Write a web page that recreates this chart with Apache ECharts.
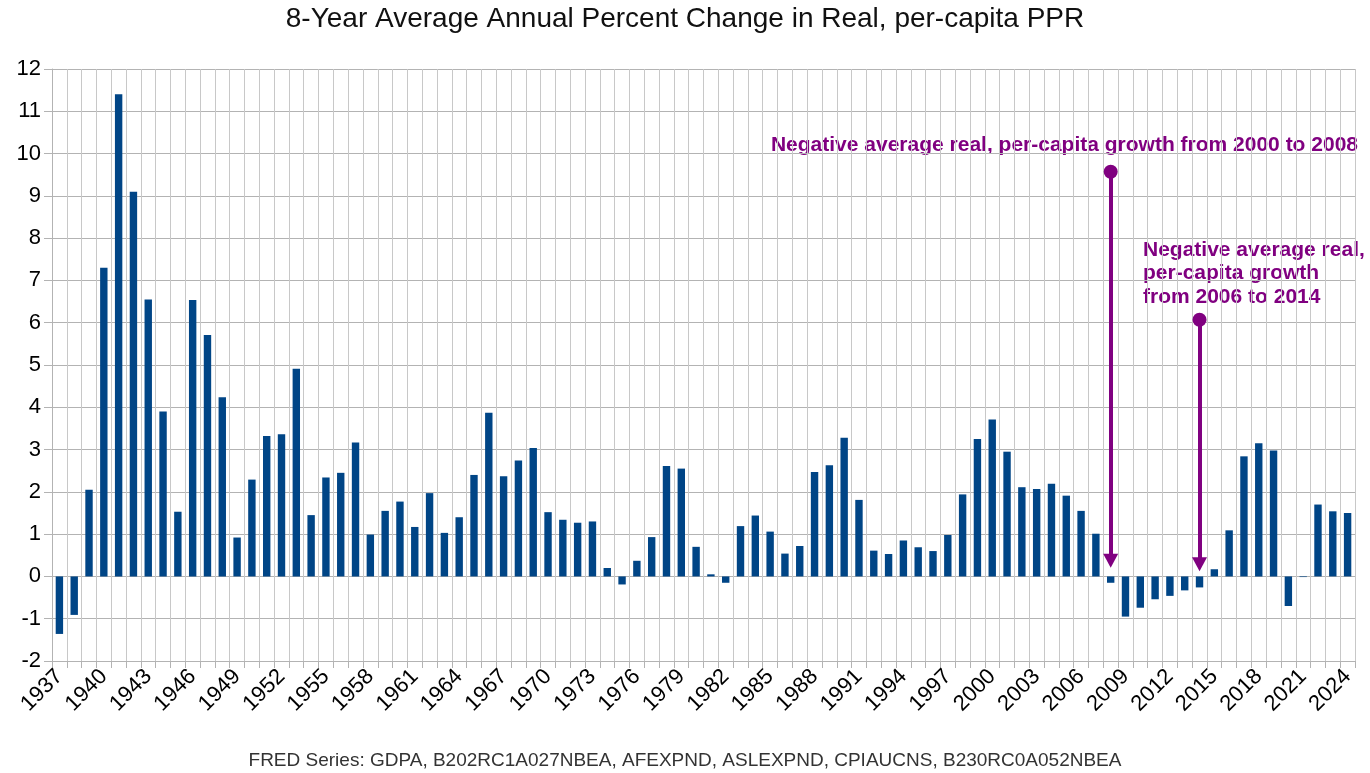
<!DOCTYPE html>
<html>
<head>
<meta charset="utf-8">
<script src="https://cdn.jsdelivr.net/npm/echarts@6/dist/echarts.min.js"></script>
<style>
html,body{margin:0;padding:0;background:#fff;}
#chart{width:1370px;height:773px;}
</style>
</head>
<body>
<div id="chart"></div>
<script>
const years = [];
for (let y = 1937; y <= 2024; y++) years.push(String(y));

const values = [
  -1.36, -0.91, 2.05, 7.30, 11.40, 9.10, 6.55, 3.90, 1.53, 6.54,
  5.71, 4.24, 0.92, 2.29, 3.32, 3.36, 4.91, 1.45, 2.34, 2.45,
  3.17, 0.99, 1.55, 1.77, 1.17, 1.97, 1.03, 1.40, 2.40, 3.87,
  2.37, 2.74, 3.04, 1.52, 1.34, 1.27, 1.30, 0.20, -0.19, 0.37,
  0.93, 2.61, 2.55, 0.70, 0.05, -0.15, 1.19, 1.44, 1.06, 0.54,
  0.72, 2.47, 2.63, 3.28, 1.81, 0.61, 0.53, 0.85, 0.69, 0.60,
  0.98, 1.94, 3.25, 3.71, 2.95, 2.11, 2.07, 2.19, 1.91, 1.55,
  1.01, -0.15, -0.95, -0.74, -0.54, -0.46, -0.33, -0.26, 0.17, 1.09,
  2.84, 3.15, 2.98, -0.70, -0.015, 1.70, 1.54, 1.50
];

const yTicks = { min: -2, max: 12, interval: 1 };

const titleText = '8-Year Average Annual Percent Change in Real, per-capita PPR';
const footerText = 'FRED Series: GDPA, B202RC1A027NBEA, AFEXPND, ASLEXPND, CPIAUCNS, B230RC0A052NBEA';

// annotation arrows: [year, start value (circle), end value (arrow tip centre)]
const arrow1 = ['2008', 9.57, 0.37];
const arrow2 = ['2014', 6.07, 0.29];
const note1 = 'Negative average real, per-capita growth from 2000 to 2008';
const note2 = ['Negative average real,', 'per-capita growth', 'from 2006 to 2014'];

const FONT = "'Liberation Sans', Arial, sans-serif";
const PURPLE = '#800080';

const chart = echarts.init(document.getElementById('chart'));
chart.setOption({
  animation: false,
  backgroundColor: '#ffffff',
  textStyle: { fontFamily: FONT },
  title: [
    { text: titleText, left: 'center', top: 5, padding: 0,
      textStyle: { fontFamily: FONT, fontSize: 28, fontWeight: 'normal', color: '#111' } },
    { text: footerText, left: 'center', top: 751, padding: 0,
      textStyle: { fontFamily: FONT, fontSize: 19, fontWeight: 'normal', color: '#333' } }
  ],
  grid: { left: 52, right: 15, top: 69, bottom: 112, containLabel: false },
  xAxis: {
    type: 'category',
    data: years,
    boundaryGap: true,
    axisLine: { onZero: false, lineStyle: { color: '#b3b3b3', width: 1 } },
    axisTick: { show: true, interval: 0, length: 7, lineStyle: { color: '#b3b3b3' } },
    axisLabel: { interval: 2, rotate: 45, fontSize: 22, color: '#000', margin: 12, fontFamily: FONT },
    splitLine: { show: true, interval: 0, lineStyle: { color: '#c8c8c8', width: 1 } }
  },
  yAxis: {
    type: 'value',
    min: yTicks.min, max: yTicks.max, interval: yTicks.interval,
    axisLine: { show: true, lineStyle: { color: '#b3b3b3' } },
    axisTick: { show: true, length: 8, lineStyle: { color: '#b3b3b3' } },
    axisLabel: { fontSize: 22, color: '#000', margin: 11, fontFamily: FONT },
    splitLine: { show: true, lineStyle: { color: '#b3b3b3', width: 1 } }
  },
  series: [{
    type: 'bar',
    data: values,
    barWidth: '50%',
    itemStyle: { color: '#004586' },
    markLine: {
      silent: true,
      symbol: ['circle', 'triangle'],
      symbolSize: [15, 14],
      label: { show: false },
      lineStyle: { color: PURPLE, width: 4, type: 'solid' },
      emphasis: { disabled: true },
      data: [
        [{ coord: [arrow1[0], arrow1[1]] }, { coord: [arrow1[0], arrow1[2]] }],
        [{ coord: [arrow2[0], arrow2[1]] }, { coord: [arrow2[0], arrow2[2]] }]
      ]
    }
  }],
  graphic: [
    { type: 'text', right: 12, top: 135,
      style: { text: note1, fill: PURPLE, font: "bold 21px 'Liberation Sans', Arial, sans-serif" } },
    { type: 'text', left: 1143, top: 238,
      style: { text: note2.join('\n'), fill: PURPLE, lineHeight: 23.5,
               font: "bold 21px 'Liberation Sans', Arial, sans-serif" } }
  ]
});
</script>
</body>
</html>
